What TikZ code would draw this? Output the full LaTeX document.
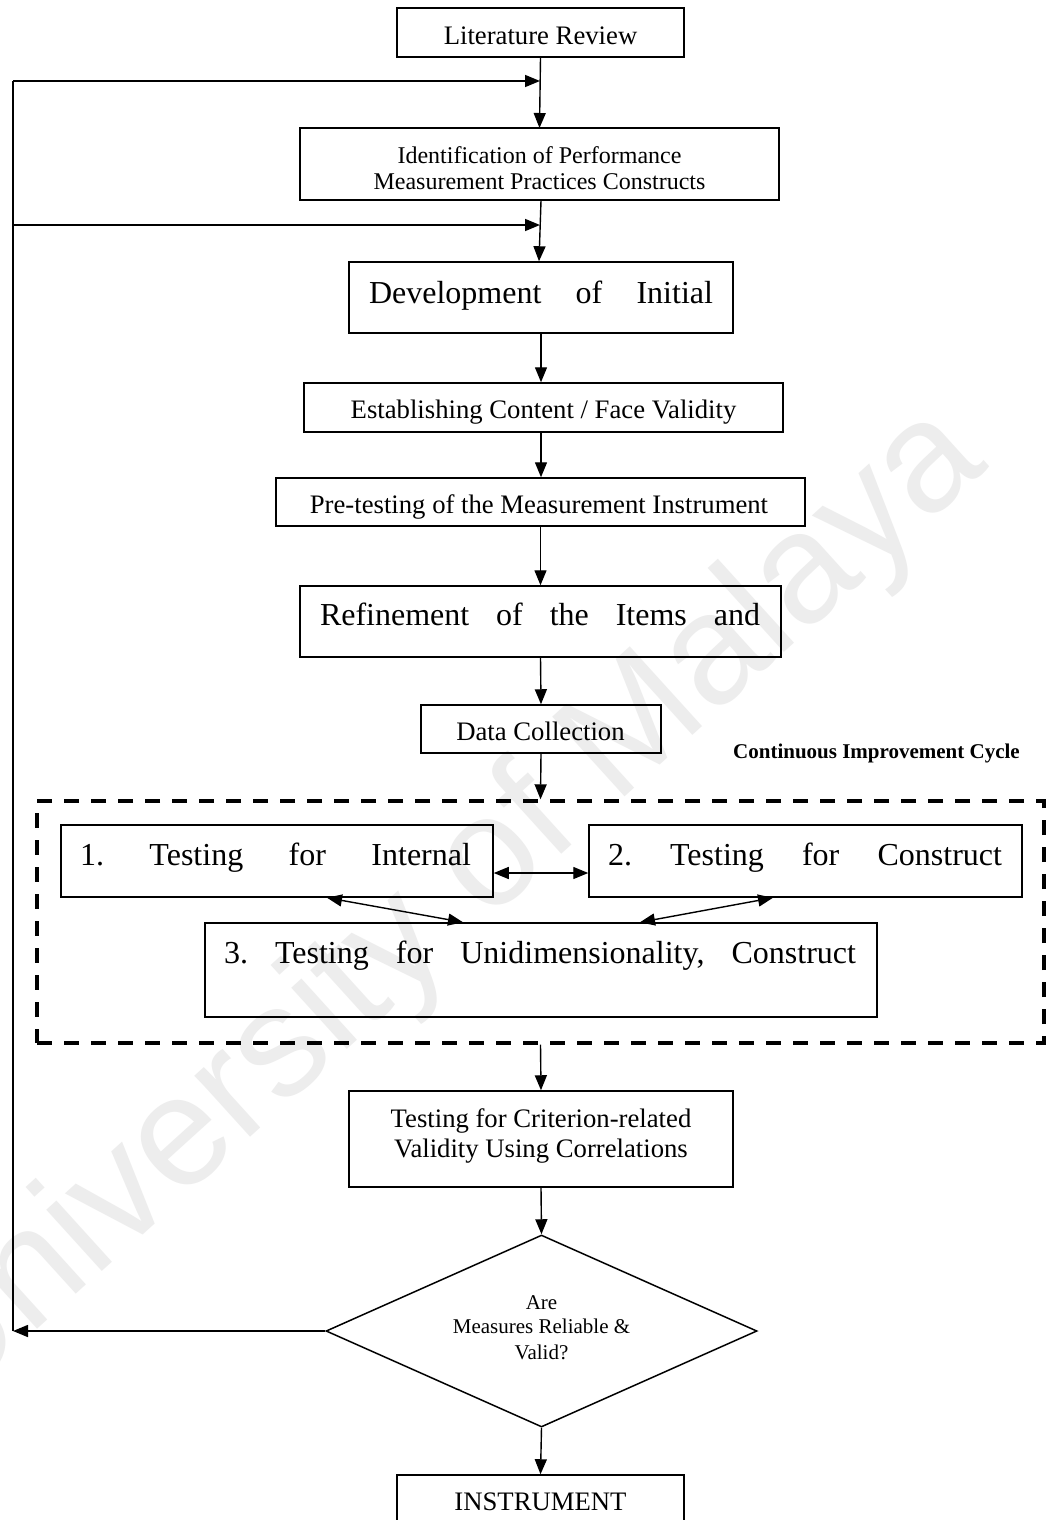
\documentclass[tikz,border=0pt]{standalone}
\usepackage{fontspec}
\setmainfont{Liberation Serif}
\newfontfamily\wmfont{Liberation Sans}
\usetikzlibrary{arrows.meta,shapes.geometric}
\begin{document}
\begin{tikzpicture}[x=1pt,y=-1pt,
  box/.style={draw, rectangle, line width=1.5pt, inner sep=0pt},
  dashbox/.style={draw, rectangle, line width=3.4pt, dash pattern=on 15pt off 12pt, inner sep=0pt},
  decision/.style={draw, diamond, line width=1.5pt, inner sep=0pt},
  txt/.style={anchor=base, inner sep=0pt, font=\fontsize{26.7}{30}\selectfont},
  smalltxt/.style={anchor=base, inner sep=0pt, font=\fontsize{24}{27}\selectfont},
  bigtxt/.style={anchor=base, inner sep=0pt, font=\fontsize{32}{36}\selectfont},
  qtxt/.style={anchor=base, inner sep=0pt, font=\fontsize{21}{25}\selectfont},
  arr/.style={line width=1.4pt, -{Triangle[length=15pt,width=12pt]}},
  dblarr/.style={line width=1.4pt, {Triangle[length=15pt,width=12pt]}-{Triangle[length=15pt,width=12pt]}},
  loopline/.style={line width=1.8pt},
  watermark/.style={inner sep=0pt, text=black!7, font=\wmfont\fontsize{156.5}{160}\selectfont}
]
\useasboundingbox (0,0) rectangle (1047,1520);
\clip (0,0) rectangle (1047,1520);
\fill[white] (0,0) rectangle (1047,1520);

% faint watermark behind the chart
\node[watermark, rotate=42.2, anchor=base west] (wm) at (-54,1413) {University of Malaya};

% process boxes
\node[box, minimum width=287, minimum height=49] (lit)   at (540.5,32.5) {};
\node[box, minimum width=479, minimum height=72] (ident) at (539.5,164) {};
\node[box, minimum width=384, minimum height=71] (dev)   at (541,297.5) {};
\node[box, minimum width=479, minimum height=49] (est)   at (543.5,407.5) {};
\node[box, minimum width=529, minimum height=48] (pre)   at (540.5,502) {};
\node[box, minimum width=481, minimum height=71] (ref)   at (540.5,621.5) {};
\node[box, minimum width=240, minimum height=48] (data)  at (541,729) {};
\node[dashbox, minimum width=1007, minimum height=242] (cyc) at (540.5,922) {};
\node[box, minimum width=432, minimum height=72] (t1)    at (277,861) {};
\node[box, minimum width=433, minimum height=72] (t2)    at (805.5,861) {};
\node[box, minimum width=672, minimum height=94] (t3)    at (541,970) {};
\node[box, minimum width=384, minimum height=96] (crit)  at (541,1139) {};
\node[decision, minimum width=431, minimum height=192] (dec) at (541.5,1331) {};
\node[box, minimum width=287, minimum height=62] (inst)  at (540.5,1506) {};

% box texts
\node[txt] (litT) at (540.5,45) {Literature Review};
\node[smalltxt] (identT1) at (539.5,163) {Identification of Performance};
\node[smalltxt] (identT2) at (539.5,189) {Measurement Practices Constructs};
\node[bigtxt] (devT) at (541,303) {\makebox[344pt]{Development\hfill of\hfill Initial}};
\node[txt] (estT) at (543.5,418) {Establishing Content / Face Validity};
\node[txt] (preT) at (539,513.5) {Pre-testing of the Measurement Instrument};
\node[bigtxt] (refT) at (540,625) {\makebox[440pt]{Refinement\hfill of\hfill the\hfill Items\hfill and}};
\node[txt] (dataT) at (540.5,740) {Data Collection};
\node[anchor=base east, inner sep=0pt, font=\bfseries\fontsize{21}{25}\selectfont] (cycT) at (1020,758) {Continuous Improvement Cycle};
\node[bigtxt] (t1T) at (275.5,865) {\makebox[391pt]{1.\hfill Testing\hfill for\hfill Internal}};
\node[bigtxt] (t2T) at (805,865) {\makebox[394pt]{2.\hfill Testing\hfill for\hfill Construct}};
\node[bigtxt] (t3T) at (540,963) {\makebox[632pt]{3.\hfill Testing\hfill for\hfill Unidimensionality,\hfill Construct}};
\node[txt] (critT1) at (541,1127) {Testing for Criterion-related};
\node[txt] (critT2) at (541,1157.5) {Validity Using Correlations};
\node[qtxt] (decT1) at (541.5,1309) {Are};
\node[qtxt] (decT2) at (541.5,1333) {Measures Reliable \&};
\node[qtxt] (decT3) at (541.5,1359) {Valid?};
\node[txt] (instT) at (540.5,1510) {INSTRUMENT};

% junctions of the feedback loop
\coordinate (j1) at (540,81);
\coordinate (j2) at (540,225);
\coordinate (c1) at (13,81);
\coordinate (c2) at (13,225);
\coordinate (c3) at (13,1331);

% main flow
\draw[arr] (lit.south) -- (ident.south |- 0,128);
\draw[arr] (ident.south) ++(1.5,0) -- ([xshift=-2pt]dev.north);
\draw[arr] (dev.south) -- (dev.south |- est.north);
\draw[arr] (est.south -| dev.south) -- (dev.south |- pre.north);
\draw[arr] (pre.south) -- (ref.north);
\draw[arr] (ref.south) -- (data.north);
\draw[arr] (data.south) -- (cyc.north);
\draw[arr] (cyc.south) -- (crit.north);
\draw[arr] (crit.south) -- (dec.north);
\draw[arr] (dec.south) -- (inst.north);

% links inside the improvement cycle
\draw[dblarr] (t1.east |- 0,873) -- (t2.west |- 0,873);
\draw[dblarr] (t1.south -| 327,0) -- (t3.north -| 463,0);
\draw[dblarr] (t2.south -| 773,0) -- (t3.north -| 640,0);

% feedback loop
\draw[arr, line width=1.6pt] (dec.west) -- (c3);
\draw[loopline] (c3) -- (c1);
\draw[arr, line width=1.6pt] (c1) -- (j1);
\draw[arr, line width=1.6pt] (c2) -- (j2);
\end{tikzpicture}
\end{document}
